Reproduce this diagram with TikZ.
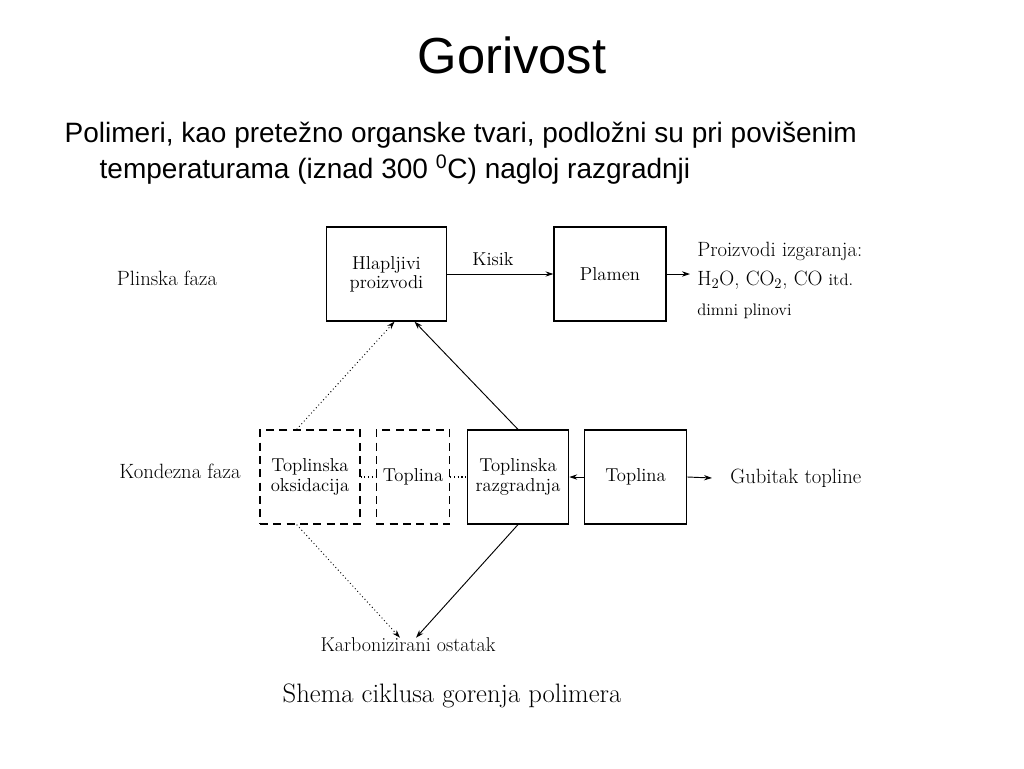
\documentclass[tikz,border=0pt]{standalone}
\usepackage{fontspec}
\setsansfont{Liberation Sans}
\newfontfamily\schola{Latin Modern Roman}
\usetikzlibrary{arrows.meta}
\begin{document}
\begin{tikzpicture}[x=0.75pt,y=-0.75pt,
  box/.style={draw,line width=0.9pt,minimum width=#1,minimum height=70.5pt,align=center,inner sep=0pt,font=\schola\fontsize{14}{14.5}\selectfont},
  dbox/.style={box=#1,dashed,dash pattern=on 6pt off 4pt},
  lbl/.style={font=\schola\fontsize{15.5}{17}\selectfont,inner sep=0pt},
  arr/.style={-{Stealth[length=6pt,width=4pt]},line width=0.7pt},
  dot/.style={dotted,line width=0.8pt}]
\useasboundingbox (0,0) rectangle (1024,768);
\node[font=\sffamily\fontsize{38}{42}\selectfont] (title) at (512,55) {Gorivost};
\node[font=\sffamily\fontsize{21}{24}\selectfont,anchor=west] (l1) at (60,135) {Polimeri, kao pretežno organske tvari, podložni su pri povišenim};
\node[font=\sffamily\fontsize{21}{24}\selectfont,anchor=west] (l2) at (95,170) {temperaturama (iznad 300 \textsuperscript{0}C) nagloj razgradnji};
\node[box=90pt] (hl) at (386.5,274) {Hlapljivi\\proizvodi};
\node[box=84pt] (pl) at (610,274) {Plamen};
\node[dbox=75pt] (ok) at (310,477) {Toplinska\\oksidacija};
\node[dbox=55pt] (tp1) at (413,477) {Toplina};
\node[box=76pt] (raz) at (518,477) {Toplinska\\razgradnja};
\node[box=77pt] (tp2) at (635.5,477) {Toplina};
\node[lbl] (pf) at (167,278) {Plinska faza};
\node[lbl] (kf) at (180,471) {Kondezna faza};
\node[lbl,font=\schola\fontsize{14}{15}\selectfont] (kis) at (493,259) {Kisik};
\node[lbl,anchor=west] (pr1) at (697,251) {Proizvodi izgaranja:};
\node[lbl,anchor=west] (pr2) at (697,280) {H\textsubscript{2}O, CO\textsubscript{2}, CO {\fontsize{12.5}{14}\selectfont itd.}};
\node[lbl,anchor=west,font=\schola\fontsize{12.5}{14}\selectfont] (pr3) at (697,311) {dimni plinovi};
\node[lbl,anchor=west] (gub) at (730,478) {Gubitak topline};
\node[lbl,font=\schola\fontsize{15}{17}\selectfont] (kar) at (408,645) {Karbonizirani ostatak};
\node[font=\schola\fontsize{20}{22}\selectfont] (cap) at (452,696) {Shema ciklusa gorenja polimera};
\coordinate (prs) at (690,274);
\coordinate (gbs) at (712,478);
\draw[arr] (hl.east) -- (pl.west);
\draw[arr] (pl.east) -- (prs);
\draw[arr] (tp2.west) -- (raz.east);
\draw[arr] (tp2.east) -- (gbs);
\draw[dot] (ok.east) -- (tp1.west) (tp1.east) -- (raz.west);
\draw[arr] (raz.north) -- ([xshift=21pt]hl.south);
\draw[arr,dotted] ([xshift=-10pt]ok.north) -- ([xshift=6pt]hl.south);
\draw[arr,dotted] ([xshift=-10pt]ok.south) -- ([xshift=-6pt]kar.north);
\draw[arr] (raz.south) -- ([xshift=6pt]kar.north);
\end{tikzpicture}
\end{document}
